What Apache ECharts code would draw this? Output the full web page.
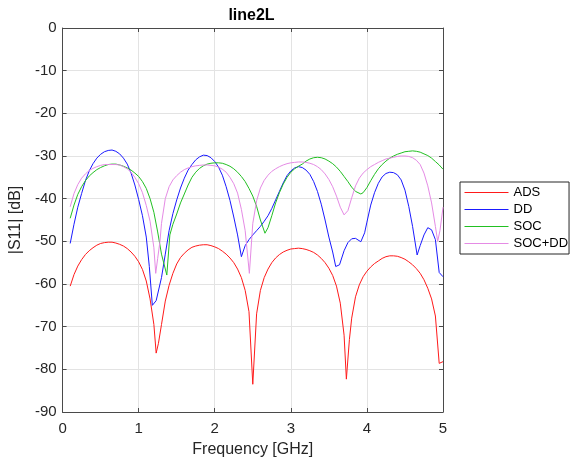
<!DOCTYPE html>
<html>
<head>
<meta charset="utf-8">
<script src="https://cdn.jsdelivr.net/npm/echarts@6/dist/echarts.min.js"></script>
<style>html,body{margin:0;padding:0;background:#fff}#c{width:571px;height:463px}</style>
</head>
<body>
<div id="c"></div>
<script>
// ---- data (frequency in GHz, |S11| in dB) ----
const chartTitle = 'line2L';
const xName = 'Frequency [GHz]';
const yName = '|S11| [dB]';
const xTicks = [0, 1, 2, 3, 4, 5];
const yTicks = [-90, -80, -70, -60, -50, -40, -30, -20, -10, 0];
const seriesNames = ['ADS', 'DD', 'SOC', 'SOC+DD'];

const adsFreq = [0.10,0.15,0.20,0.25,0.30,0.35,0.40,0.45,0.50,0.55,0.60,0.65,0.70,0.75,0.80,0.85,0.90,0.95,1.00,1.05,1.10,1.15,1.20,1.23,1.26,1.30,1.35,1.40,1.45,1.50,1.55,1.60,1.65,1.70,1.75,1.80,1.85,1.90,1.95,2.00,2.05,2.10,2.15,2.20,2.25,2.30,2.35,2.40,2.45,2.50,2.55,2.60,2.65,2.70,2.75,2.80,2.85,2.90,2.95,3.00,3.05,3.10,3.15,3.20,3.25,3.30,3.35,3.40,3.45,3.50,3.55,3.60,3.65,3.70,3.73,3.77,3.80,3.85,3.90,3.95,4.00,4.05,4.10,4.15,4.20,4.25,4.30,4.35,4.40,4.45,4.50,4.55,4.60,4.65,4.70,4.75,4.80,4.85,4.90,4.95,5.00];
const adsDb = [-60.5,-57.8,-55.8,-54.3,-53.1,-52.2,-51.5,-50.9,-50.5,-50.3,-50.2,-50.2,-50.4,-50.7,-51.1,-51.7,-52.5,-53.5,-54.8,-56.6,-59.3,-63.5,-69.5,-76.2,-73.9,-69.5,-64.0,-60.3,-57.5,-55.3,-53.8,-52.8,-52.0,-51.4,-51.1,-50.9,-50.8,-50.8,-51.0,-51.3,-51.7,-52.3,-53.0,-53.9,-55.0,-56.5,-58.5,-61.5,-66.5,-83.5,-67.0,-61.5,-58.5,-56.5,-55.0,-53.9,-53.1,-52.5,-52.1,-51.8,-51.7,-51.6,-51.7,-51.9,-52.2,-52.6,-53.2,-54.0,-55.0,-56.3,-58.0,-60.5,-64.5,-72.0,-82.3,-73.0,-68.0,-63.0,-60.2,-58.3,-57.0,-56.0,-55.2,-54.6,-54.0,-53.6,-53.4,-53.4,-53.5,-53.8,-54.2,-54.8,-55.5,-56.4,-57.5,-59.0,-61.0,-63.5,-67.5,-78.6,-78.2];

const ddFreq = [0.10,0.15,0.20,0.25,0.30,0.35,0.40,0.45,0.50,0.55,0.60,0.65,0.70,0.75,0.80,0.85,0.90,0.95,1.00,1.05,1.10,1.14,1.18,1.23,1.30,1.35,1.40,1.45,1.50,1.55,1.60,1.65,1.70,1.75,1.80,1.85,1.90,1.95,2.00,2.05,2.10,2.15,2.20,2.25,2.30,2.35,2.40,2.45,2.50,2.55,2.60,2.65,2.70,2.75,2.80,2.85,2.90,2.95,3.00,3.05,3.10,3.15,3.20,3.25,3.30,3.35,3.40,3.45,3.50,3.55,3.59,3.64,3.70,3.75,3.80,3.85,3.92,3.97,4.00,4.05,4.10,4.15,4.20,4.25,4.30,4.35,4.40,4.45,4.50,4.55,4.60,4.66,4.70,4.75,4.80,4.85,4.90,4.95,5.00];
const ddDb = [-50.5,-46.0,-42.0,-38.8,-35.8,-33.5,-31.8,-30.5,-29.6,-29.0,-28.7,-28.6,-28.9,-29.5,-30.5,-31.9,-34.0,-36.8,-40.2,-44.0,-49.0,-55.9,-65.0,-63.9,-58.5,-53.0,-47.5,-43.5,-40.3,-37.5,-35.2,-33.3,-32.0,-30.9,-30.2,-29.8,-29.9,-30.4,-31.3,-32.6,-34.5,-37.2,-40.4,-44.3,-48.5,-53.6,-51.0,-49.6,-48.5,-47.5,-46.5,-45.3,-44.0,-42.3,-40.3,-38.3,-36.3,-34.6,-33.5,-32.8,-32.5,-32.7,-33.3,-34.3,-36.0,-38.3,-41.3,-45.0,-49.0,-52.5,-55.9,-55.5,-52.2,-50.3,-49.4,-49.3,-50.1,-48.0,-45.5,-41.5,-38.6,-36.4,-34.9,-34.1,-33.8,-33.9,-34.4,-35.6,-38.0,-41.8,-46.5,-53.2,-51.0,-48.5,-46.8,-47.3,-49.6,-57.3,-58.3];

const socFreq = [0.10,0.15,0.20,0.25,0.30,0.35,0.40,0.45,0.50,0.55,0.60,0.65,0.70,0.75,0.80,0.85,0.90,0.95,1.00,1.05,1.10,1.15,1.20,1.25,1.30,1.37,1.41,1.45,1.50,1.55,1.60,1.65,1.70,1.75,1.80,1.85,1.90,1.95,2.00,2.05,2.10,2.15,2.20,2.25,2.30,2.35,2.40,2.45,2.50,2.55,2.60,2.66,2.70,2.75,2.80,2.85,2.90,2.95,3.00,3.05,3.10,3.15,3.20,3.25,3.30,3.35,3.40,3.45,3.50,3.55,3.60,3.65,3.70,3.75,3.80,3.85,3.92,3.95,4.00,4.05,4.10,4.15,4.20,4.25,4.30,4.35,4.40,4.45,4.50,4.55,4.60,4.65,4.70,4.75,4.80,4.85,4.90,4.95,5.00];
const socDb = [-44.6,-41.5,-39.0,-37.2,-35.8,-34.7,-33.9,-33.2,-32.7,-32.3,-32.0,-31.9,-31.9,-32.1,-32.4,-32.8,-33.3,-34.0,-34.8,-36.0,-37.6,-40.0,-43.2,-47.8,-53.0,-57.9,-48.5,-46.0,-43.6,-41.0,-38.9,-36.8,-35.0,-33.8,-32.9,-32.3,-31.9,-31.7,-31.6,-31.6,-31.7,-32.0,-32.4,-33.0,-33.8,-34.8,-36.0,-37.6,-39.4,-41.8,-45.0,-48.1,-46.8,-44.0,-41.0,-38.6,-36.6,-35.0,-33.8,-33.0,-32.4,-31.9,-31.2,-30.7,-30.4,-30.3,-30.4,-30.7,-31.2,-31.8,-32.6,-33.6,-34.8,-36.0,-37.3,-38.3,-38.9,-38.6,-37.4,-35.8,-34.3,-33.0,-32.0,-31.2,-30.5,-30.0,-29.6,-29.3,-29.0,-28.9,-28.8,-28.9,-29.1,-29.5,-29.9,-30.5,-31.3,-32.1,-33.1];

const socddFreq = [0.10,0.15,0.20,0.25,0.30,0.35,0.40,0.45,0.50,0.55,0.60,0.65,0.70,0.75,0.80,0.85,0.90,0.95,1.00,1.05,1.10,1.15,1.20,1.224,1.25,1.28,1.30,1.35,1.40,1.45,1.50,1.55,1.60,1.65,1.70,1.75,1.80,1.85,1.90,1.95,2.00,2.05,2.10,2.15,2.20,2.25,2.30,2.35,2.40,2.455,2.50,2.55,2.60,2.65,2.70,2.75,2.80,2.85,2.90,2.95,3.00,3.05,3.10,3.15,3.20,3.25,3.30,3.35,3.40,3.45,3.50,3.55,3.60,3.65,3.70,3.75,3.80,3.85,3.90,3.95,4.00,4.05,4.10,4.15,4.20,4.25,4.30,4.35,4.40,4.45,4.50,4.55,4.60,4.65,4.70,4.75,4.80,4.85,4.90,4.93,4.96,5.00];
const socddDb = [-41.9,-38.8,-36.7,-35.2,-34.2,-33.4,-32.9,-32.5,-32.2,-32.0,-32.0,-32.0,-32.0,-32.1,-32.5,-33.0,-33.8,-35.0,-36.5,-38.6,-41.6,-45.3,-51.5,-57.5,-54.0,-50.0,-45.8,-40.0,-37.2,-35.6,-34.6,-33.8,-33.2,-32.8,-32.5,-32.3,-32.2,-32.1,-32.1,-32.2,-32.3,-32.6,-33.1,-33.8,-35.0,-36.5,-38.7,-42.5,-47.5,-57.5,-45.8,-40.5,-37.5,-35.7,-34.5,-33.6,-33.0,-32.5,-32.1,-31.8,-31.6,-31.5,-31.4,-31.4,-31.5,-31.7,-32.0,-32.5,-33.2,-34.2,-35.5,-37.2,-39.4,-42.0,-43.8,-42.8,-39.8,-37.0,-35.2,-34.0,-33.2,-32.5,-32.0,-31.5,-31.1,-30.7,-30.5,-30.3,-30.1,-30.0,-30.0,-30.1,-30.4,-31.0,-32.0,-34.0,-37.0,-41.0,-46.5,-50.0,-47.5,-42.0];

const seriesColors = ['#ff1a1a', '#1a1aff', '#22c022', '#e58be5'];
// --------------------------------------------

const FONT = '"Liberation Sans", Arial, Helvetica, sans-serif';
const AXC = '#262626';
function pairs(xs, ys) { return xs.map((x, i) => [x, ys[i]]); }
const allData = [pairs(adsFreq, adsDb), pairs(ddFreq, ddDb), pairs(socFreq, socDb), pairs(socddFreq, socddDb)];

const xMin = xTicks[0], xMax = xTicks[xTicks.length - 1], xInt = xTicks[1] - xTicks[0];
const yMin = yTicks[0], yMax = yTicks[yTicks.length - 1], yInt = yTicks[1] - yTicks[0];

const chart = echarts.init(document.getElementById('c'), null, { renderer: 'canvas' });
const baseAxis = {
  type: 'value',
  axisLine: { show: true, onZero: false, lineStyle: { color: '#4a4a4a', width: 1 } },
  axisTick: { show: true, inside: true, length: 4, lineStyle: { color: '#4a4a4a' } },
  splitLine: { show: true, lineStyle: { color: '#e3e3e3', width: 1 } },
  axisLabel: { color: AXC, fontFamily: FONT, fontSize: 15 }
};
chart.setOption({
  animation: false,
  backgroundColor: '#ffffff',
  grid: { left: 60, right: 128, top: 28, bottom: 51, containLabel: false },
  graphic: [{
    type: 'text', x: 251.5, y: 15.5,
    style: { text: chartTitle, fill: '#000', font: 'bold 16px ' + FONT, align: 'center', verticalAlign: 'middle' },
    z: 10
  }],
  xAxis: [
    Object.assign({}, baseAxis, {
      position: 'bottom', min: xMin, max: xMax, interval: xInt,
      name: xName, nameLocation: 'middle', nameGap: 30,
      nameTextStyle: { color: AXC, fontFamily: FONT, fontSize: 16 },
      axisLabel: { color: AXC, fontFamily: FONT, fontSize: 15, margin: 9 }
    }),
    Object.assign({}, baseAxis, {
      position: 'top', min: xMin, max: xMax, interval: xInt,
      axisLabel: { show: false }, splitLine: { show: false }
    })
  ],
  yAxis: [
    Object.assign({}, baseAxis, {
      position: 'left', min: yMin, max: yMax, interval: yInt,
      name: yName, nameLocation: 'middle', nameGap: 35,
      nameTextStyle: { color: AXC, fontFamily: FONT, fontSize: 16 },
      axisLabel: { color: AXC, fontFamily: FONT, fontSize: 15, margin: 6 }
    }),
    Object.assign({}, baseAxis, {
      position: 'right', min: yMin, max: yMax, interval: yInt,
      axisLabel: { show: false }, splitLine: { show: false }
    })
  ],
  legend: {
    orient: 'vertical', left: 460, top: 182,
    data: seriesNames.map(n => ({ name: n, itemStyle: { opacity: 0 } })),
    itemWidth: 44, itemHeight: 14, itemGap: 4,
    padding: [4, 1, 4, 4],
    borderColor: AXC, borderWidth: 1, backgroundColor: '#fff',
    lineStyle: { width: 1 },
    textStyle: { color: '#000', fontFamily: FONT, fontSize: 13 }
  },
  series: seriesNames.map((n, i) => ({
    name: n, type: 'line', data: allData[i],
    xAxisIndex: 0, yAxisIndex: 0,
    symbol: 'none', showSymbol: false, smooth: false, clip: true,
    color: seriesColors[i],
    lineStyle: { color: seriesColors[i], width: 1 },
    emphasis: { disabled: true }
  }))
});
</script>
</body>
</html>
